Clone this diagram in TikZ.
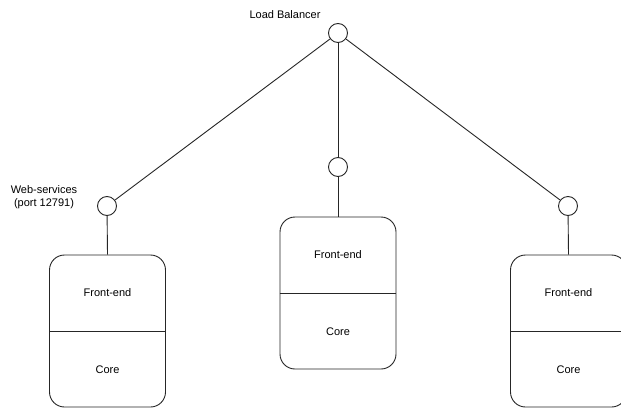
\documentclass[tikz,border=0pt]{standalone}
\usepackage{fontspec}
\setmainfont{Liberation Sans}
\begin{document}
\begin{tikzpicture}[x=1pt,y=-1pt,
  every node/.style={font=\fontsize{11}{13}\selectfont},
  port/.style={draw=black!85,line width=0.9pt,circle,minimum size=19pt,inner sep=0pt,fill=white},
  server/.style={draw=black!85,line width=0.9pt,rounded corners=15pt,minimum width=116pt,minimum height=152pt,inner sep=0pt},
  link/.style={draw=black!85,line width=0.9pt},
  lbl/.style={inner sep=0pt,align=center}]
\useasboundingbox (0,0) rectangle (621,407);
\fill[white] (0,0) rectangle (621,407);
% load balancer
\node[port] (lb) at (338,33) {};
\node[lbl] (lbtext) at (285,15) {Load Balancer};
% ports
\node[port] (pl) at (107,206) {};
\node[port] (pm) at (338,167) {};
\node[port] (pr) at (568,206) {};
\node[lbl] (wstext) at (44,197) {Web-services\\(port 12791)};
% servers
\node[server] (sl) at (107.5,331) {};
\node[server] (sm) at (338,293) {};
\node[server] (sr) at (568.5,331) {};
\foreach \s in {sl,sm,sr}{
  \draw[link] (\s.west) -- (\s.east);
  \node[lbl] (\s-fe) at ([yshift=38pt]\s.center) {Front-end};
  \node[lbl] (\s-co) at ([yshift=-39pt]\s.center) {Core};
}
% connectors
\draw[link] (lb) -- (pl);
\draw[link] (lb) -- (pm);
\draw[link] (lb) -- (pr);
\draw[link] (pl) -- (sl.north);
\draw[link] (pm) -- (sm.north);
\draw[link] (pr) -- (sr.north);
\end{tikzpicture}
\end{document}
